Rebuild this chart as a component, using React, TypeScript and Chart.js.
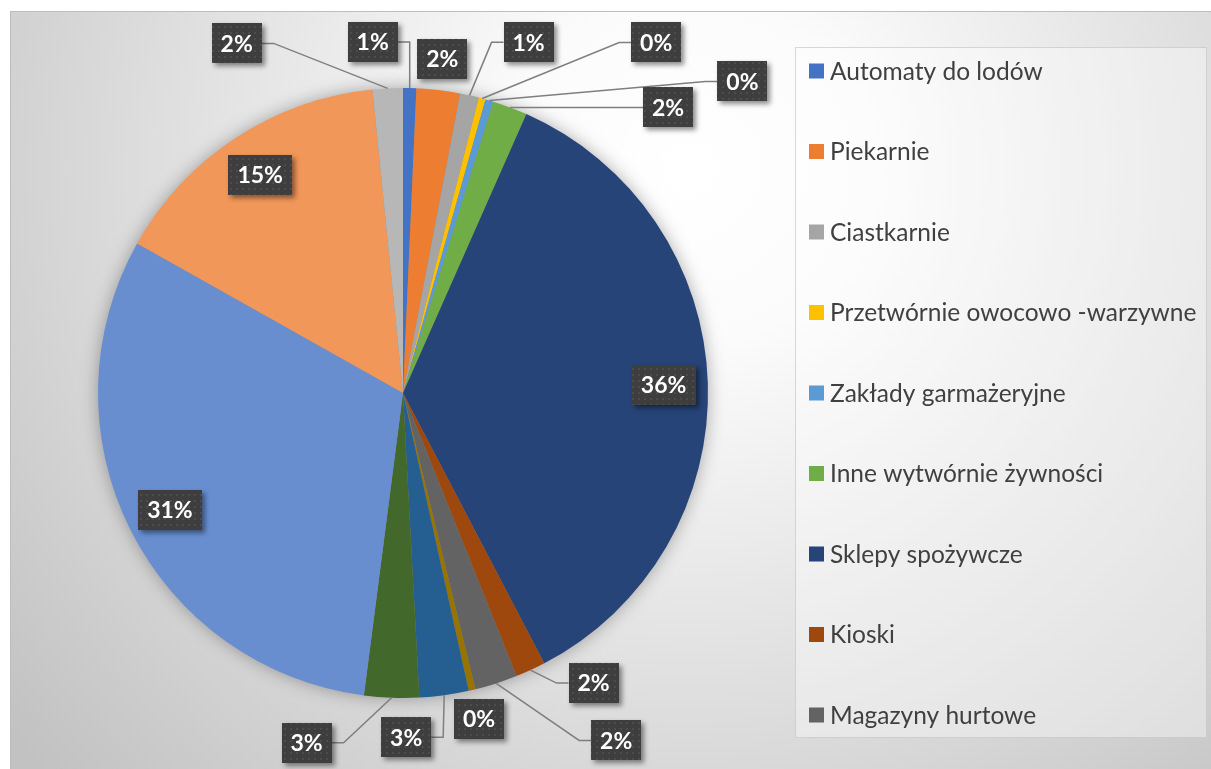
import React, { useEffect, useRef } from "react";
import { Chart, registerables } from "chart.js";

Chart.register(...registerables);

// ---------- data ----------
const categories = [
  "Automaty do lodów",
  "Piekarnie",
  "Ciastkarnie",
  "Przetwórnie owocowo -warzywne",
  "Zakłady garmażeryjne",
  "Inne wytwórnie żywności",
  "Sklepy spożywcze",
  "Kioski",
  "Magazyny hurtowe",
  "Kategoria 10",
  "Kategoria 11",
  "Kategoria 12",
  "Kategoria 13",
  "Kategoria 14",
  "Kategoria 15",
];

const shares = [0.7, 2.3, 1.0, 0.36, 0.42, 1.85, 35.7, 1.6, 2.25, 0.36, 2.6, 2.9, 31.1, 15.25, 1.6];

const legendVisibleCount = 9;

// ---------- style ----------
const sliceColors = [
  "#4472C4", "#ED7D31", "#A5A5A5", "#FFC000", "#5B9BD5", "#70AD47",
  "#264478", "#9E480E", "#636363", "#997300", "#255E91", "#43682B",
  "#698ED0", "#F1975A", "#B7B7B7",
];

// label placement: inside (radius fraction) or offset from slice's outer mid point
const labelPlacement = [
  { dx: -37, dy: -46 },
  { dx: 4, dy: -31 },
  { dx: 59, dy: -53 },
  { dx: 174, dy: -56 },
  { dx: 253, dy: -19 },
  { dx: 158, dy: 0 },
  { inside: 0.855 },
  { dx: 63, dy: 13 },
  { dx: 120, dy: 57 },
  { dx: 7, dy: 29 },
  { dx: -38, dy: 42 },
  { dx: -85, dy: 45 },
  { inside: 0.855 },
  { inside: 0.855 },
  { dx: -151, dy: -45 },
];

const W = 1211;
const H = 769;

function makeDotPattern(ctx: CanvasRenderingContext2D) {
  const c = document.createElement("canvas");
  c.width = 6;
  c.height = 6;
  const g = c.getContext("2d")!;
  g.fillStyle = "#3e3e3e";
  g.fillRect(0, 0, 6, 6);
  g.fillStyle = "#4c4c4c";
  g.fillRect(2, 2, 2, 2);
  return ctx.createPattern(c, "repeat");
}

const backgroundPlugin = {
  id: "bgPlugin",
  beforeDraw(chart: any) {
    const ctx = chart.ctx as CanvasRenderingContext2D;
    ctx.save();
    ctx.fillStyle = "#ffffff";
    ctx.fillRect(0, 0, W, H);
    const g = ctx.createRadialGradient(690, 170, 0, 690, 170, 880);
    g.addColorStop(0, "#ffffff");
    g.addColorStop(0.2, "#fbfbfb");
    g.addColorStop(1, "#c2c2c2");
    ctx.fillStyle = g;
    ctx.fillRect(10, 11, W - 10, H - 11);
    ctx.strokeStyle = "#bdbdbd";
    ctx.lineWidth = 1;
    ctx.beginPath();
    ctx.moveTo(10.5, H);
    ctx.lineTo(10.5, 11.5);
    ctx.lineTo(W, 11.5);
    ctx.stroke();

    // legend box
    ctx.fillStyle = "rgba(255,255,255,0.38)";
    ctx.fillRect(795, 47, 412, 691);
    ctx.strokeStyle = "rgba(190,190,190,0.6)";
    ctx.strokeRect(795.5, 47.5, 411, 690);
    ctx.restore();
  },
  beforeDatasetsDraw(chart: any) {
    const ctx = chart.ctx as CanvasRenderingContext2D;
    const arc = chart.getDatasetMeta(0).data[0];
    if (!arc) return;
    const { x, y, outerRadius } = arc.getProps(["x", "y", "outerRadius"], true);
    ctx.save();
    ctx.shadowColor = "rgba(0,0,0,0.35)";
    ctx.shadowBlur = 18;
    ctx.fillStyle = "#888888";
    ctx.beginPath();
    ctx.arc(x, y, outerRadius - 1, 0, Math.PI * 2);
    ctx.fill();
    ctx.restore();
  },
};

const legendPlugin = {
  id: "legendPlugin",
  afterDraw(chart: any) {
    const ctx = chart.ctx as CanvasRenderingContext2D;
    const labels: string[] = chart.data.labels;
    const colors: string[] = chart.data.datasets[0].backgroundColor;
    ctx.save();
    ctx.font = "24.5px Lato, 'Open Sans', sans-serif";
    ctx.textBaseline = "middle";
    ctx.textAlign = "left";
    for (let i = 0; i < legendVisibleCount; i++) {
      const cy = 71 + i * 80.5;
      ctx.fillStyle = colors[i];
      ctx.fillRect(809, cy - 7.5, 15, 15);
      ctx.fillStyle = "#404040";
      ctx.fillText(labels[i], 830, cy + 1);
    }
    ctx.restore();
  },
};

const dataLabelPlugin = {
  id: "dataLabelPlugin",
  afterDatasetsDraw(chart: any) {
    const ctx = chart.ctx as CanvasRenderingContext2D;
    const meta = chart.getDatasetMeta(0);
    const data: number[] = chart.data.datasets[0].data;
    const total = data.reduce((a, b) => a + b, 0);
    const pattern = makeDotPattern(ctx);
    ctx.save();
    ctx.font = "bold 23px Lato, 'Open Sans', sans-serif";
    const items: any[] = [];
    meta.data.forEach((arc: any, i: number) => {
      const { x, y, startAngle, endAngle, outerRadius } = arc.getProps(
        ["x", "y", "startAngle", "endAngle", "outerRadius"],
        true
      );
      const mid = (startAngle + endAngle) / 2;
      const text = Math.round((data[i] / total) * 100) + "%";
      const tw = ctx.measureText(text).width;
      const bw = Math.round(tw + 18);
      const bh = 40;
      const p: any = labelPlacement[i];
      const ex = x + Math.cos(mid) * outerRadius;
      const ey = y + Math.sin(mid) * outerRadius;
      let bx: number, by: number;
      let leader = false;
      if (p.inside) {
        bx = x + Math.cos(mid) * outerRadius * p.inside;
        by = y + Math.sin(mid) * outerRadius * p.inside;
      } else {
        bx = ex + p.dx;
        by = ey + p.dy;
        leader = Math.hypot(p.dx, p.dy) > 40;
      }
      items.push({ text, bx, by, bw, bh, ex, ey, leader });
    });

    // leader lines
    ctx.strokeStyle = "#7f7f7f";
    ctx.lineWidth = 1.5;
    items.forEach((it) => {
      if (!it.leader) return;
      const right = it.bx > it.ex;
      const sx = right ? it.bx - it.bw / 2 : it.bx + it.bw / 2;
      const kx = right ? sx - 12 : sx + 12;
      ctx.beginPath();
      ctx.moveTo(sx, it.by);
      ctx.lineTo(kx, it.by);
      ctx.lineTo(it.ex, it.ey);
      ctx.stroke();
    });

    // boxes
    items.forEach((it) => {
      const l = Math.round(it.bx - it.bw / 2);
      const t = Math.round(it.by - it.bh / 2);
      ctx.save();
      ctx.shadowColor = "rgba(0,0,0,0.45)";
      ctx.shadowBlur = 5;
      ctx.shadowOffsetX = 3;
      ctx.shadowOffsetY = 3;
      ctx.fillStyle = "#3e3e3e";
      ctx.fillRect(l, t, it.bw, it.bh);
      ctx.restore();
      if (pattern) {
        ctx.fillStyle = pattern;
        ctx.fillRect(l, t, it.bw, it.bh);
      }
      ctx.fillStyle = "#ffffff";
      ctx.textAlign = "center";
      ctx.textBaseline = "middle";
      ctx.fillText(it.text, it.bx, it.by + 1);
    });
    ctx.restore();
  },
};

export default function App() {
  const canvasRef = useRef<HTMLCanvasElement | null>(null);

  useEffect(() => {
    const canvas = canvasRef.current;
    if (!canvas) return;
    const chart = new Chart(canvas, {
      type: "pie",
      data: {
        labels: categories,
        datasets: [
          {
            data: shares,
            backgroundColor: sliceColors,
            borderWidth: 0,
          },
        ],
      },
      options: {
        responsive: false,
        maintainAspectRatio: false,
        animation: false,
        devicePixelRatio: 1,
        layout: { padding: { top: 88, bottom: 71, left: 98, right: 503 } },
        plugins: {
          legend: { display: false },
          tooltip: { enabled: false },
        },
      },
      plugins: [backgroundPlugin, dataLabelPlugin, legendPlugin],
    });
    return () => chart.destroy();
  }, []);

  return (
    <div style={{ position: "fixed", left: 0, top: 0, width: W, height: H }}>
      <canvas ref={canvasRef} width={W} height={H} style={{ display: "block" }} />
    </div>
  );
}
